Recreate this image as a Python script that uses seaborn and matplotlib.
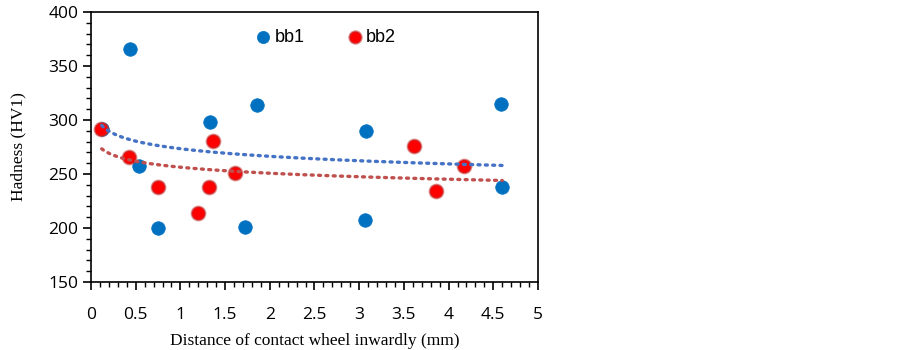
import numpy as np
import pandas as pd
import matplotlib
matplotlib.use("Agg")
import matplotlib.pyplot as plt
import seaborn as sns

# ---- data ----
bb1_x = [0.12, 0.44, 0.54, 0.75, 1.33, 1.72, 1.86, 3.06, 3.08, 4.59, 4.60]
bb1_y = [292, 366, 257, 200, 298, 201, 314, 207, 290, 315, 238]
bb2_x = [0.11, 0.43, 0.75, 1.20, 1.32, 1.36, 1.61, 3.61, 3.86, 4.17]
bb2_y = [292, 266, 238, 214, 238, 281, 251, 276, 234, 257]
series_names = ["bb1", "bb2"]
x_ticks = [0, 0.5, 1, 1.5, 2, 2.5, 3, 3.5, 4, 4.5, 5]
y_ticks = [150, 200, 250, 300, 350, 400]

point_colors = {"bb1": "#0070C0", "bb2": "#FF0000"}
edge_colors = {"bb1": "#0070C0", "bb2": (0.75, 0.18, 0.18, 0.55)}
trend_colors = {"bb1": "#4472C4", "bb2": "#C0504D"}

df = pd.concat([
    pd.DataFrame({"x": bb1_x, "y": bb1_y, "s": "bb1"}),
    pd.DataFrame({"x": bb2_x, "y": bb2_y, "s": "bb2"}),
], ignore_index=True)

sns.set_style("white")
fig = plt.figure(figsize=(9.03, 3.5), dpi=100)
ax = fig.add_axes([91 / 903, 1 - 282 / 350, (538 - 91) / 903, (282 - 12) / 350])

for name in series_names:
    d = df[df.s == name]
    sns.scatterplot(data=d, x="x", y="y", ax=ax, color=point_colors[name],
                    edgecolor=edge_colors[name], linewidth=1.6 if name == "bb2" else 0.5,
                    s=95, label=name, zorder=3)

# log trendlines (Excel style), fitted from each series, drawn over the shared x range
xs = np.linspace(df.x.min() + 0.01, df.x.max(), 200)
for name in series_names:
    d = df[df.s == name]
    a, b = np.polyfit(np.log(d.x), d.y, 1)
    ax.plot(xs, a * np.log(xs) + b, color=trend_colors[name], lw=2.4,
            linestyle=(0, (0.6, 1.6)), dash_capstyle="round", zorder=4)

ax.set_xlim(0, 5)
ax.set_ylim(150, 400)
ax.set_xticks(x_ticks)
ax.set_yticks(y_ticks)
ax.set_xticklabels([f"{t:g}" for t in x_ticks])
ax.xaxis.set_minor_locator(matplotlib.ticker.MultipleLocator(0.1))
ax.yaxis.set_minor_locator(matplotlib.ticker.MultipleLocator(10))
ax.tick_params(axis="both", which="both", bottom=True, left=True, top=False, right=False)
ax.tick_params(axis="both", which="major", direction="out", length=6, width=1.2,
               color="black", labelsize=12.5, labelcolor="black")
ax.tick_params(axis="both", which="minor", direction="out", length=3.5, width=1.0,
               color="black")
ax.tick_params(axis="x", which="major", pad=12)
ax.tick_params(axis="y", which="major", pad=3)
for lab in ax.get_xticklabels() + ax.get_yticklabels():
    lab.set_family(["Open Sans", "DejaVu Sans"])
for sp in ax.spines.values():
    sp.set_color("black")
    sp.set_linewidth(1.2)

ax.set_xlabel("Distance of contact wheel inwardly (mm)", family="Liberation Serif",
              fontsize=12.5, labelpad=7, color="black")
ax.set_ylabel("Hadness (HV1)", family="Liberation Serif", fontsize=12.5, labelpad=16,
              color="black")

leg = ax.legend(loc="center", bbox_to_anchor=((326 - 91) / 447, 1 - (37 - 12) / 270),
                ncol=2, frameon=False, handlelength=0.8, handletextpad=0.2,
                columnspacing=2.4, prop={"family": "Liberation Sans", "size": 13},
                markerscale=0.9)
for t in leg.get_texts():
    t.set_color("black")

fig.savefig("out.png", dpi=100)
